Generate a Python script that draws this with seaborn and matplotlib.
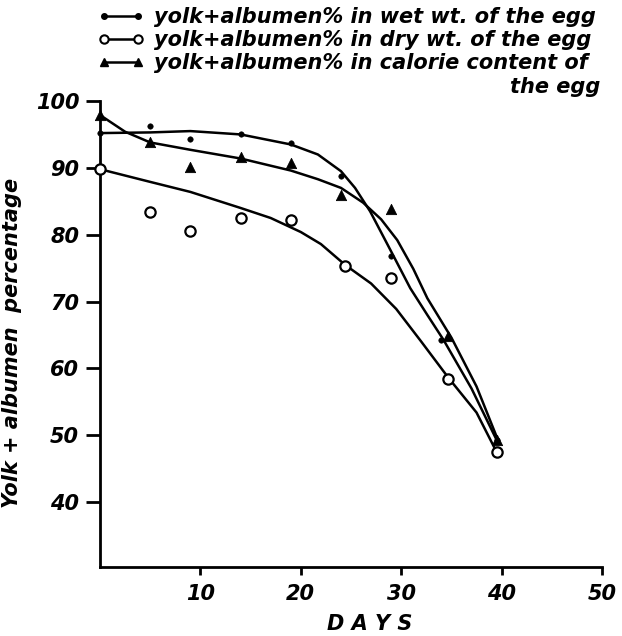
import matplotlib
matplotlib.use("Agg")
import matplotlib.pyplot as plt
from matplotlib.lines import Line2D
import seaborn as sns

# measured points (days, yolk+albumen %)
wet_days = [0, 5, 9, 14, 19, 24, 29, 34, 39.5]
wet_pct = [95.2, 96.3, 94.3, 95.1, 93.7, 88.8, 76.8, 64.3, 49.3]

dry_days = [0, 5, 9, 14, 19, 24.4, 29, 34.7, 39.5]
dry_pct = [89.8, 83.4, 80.6, 82.5, 82.2, 75.3, 73.5, 58.4, 47.5]

cal_days = [0, 5, 9, 14, 19, 24, 29, 34.7, 39.5]
cal_pct = [97.9, 93.9, 90.1, 91.6, 90.8, 85.9, 83.8, 64.8, 49.3]

# hand drawn fitted curves
wet_fit_days = [0, 5, 9, 14, 19, 21.7, 24, 25.4, 26.9, 29.1, 30.9, 32.6, 34.2, 37, 39.5]
wet_fit_pct = [95.2, 95.3, 95.5, 95.0, 93.5, 92.0, 89.5, 87.0, 83.5, 77.2, 72.0, 68.0, 64.3, 57.0, 49.3]

dry_fit_days = [0, 5, 9, 14, 17, 20, 22, 24.4, 27, 29.5, 32, 34.7, 37.5, 39.5]
dry_fit_pct = [89.8, 87.9, 86.4, 84.0, 82.5, 80.4, 78.6, 75.5, 72.7, 68.9, 64.0, 58.6, 53.4, 47.5]

cal_fit_days = [0, 2.5, 5, 9, 14, 19, 21.7, 24, 26.2, 28, 29.6, 31.2, 32.6, 35, 37.5, 39.5]
cal_fit_pct = [97.9, 95.4, 93.8, 92.7, 91.4, 89.6, 88.3, 87.0, 84.8, 82.3, 79.2, 74.9, 70.5, 64.6, 57.3, 49.8]

x_ticks = [10, 20, 30, 40, 50]
y_ticks = [40, 50, 60, 70, 80, 90, 100]

legend_labels = ["yolk+albumen% in wet wt. of the egg",
                 "yolk+albumen% in dry wt. of the egg",
                 "yolk+albumen% in calorie content of"]

sns.set_style("ticks")
plt.rcParams["font.family"] = ["DejaVu Sans"]
for key in ["text.color", "axes.labelcolor", "xtick.color", "ytick.color", "axes.edgecolor"]:
    plt.rcParams[key] = "black"

fig = plt.figure(figsize=(6.22, 6.36), dpi=100)
ax = fig.add_axes([0.1608, 0.1085, 0.8071, 0.7327])

lw = 1.8
sns.lineplot(x=wet_fit_days, y=wet_fit_pct, color="black", lw=lw, estimator=None, sort=False, ax=ax)
sns.lineplot(x=dry_fit_days, y=dry_fit_pct, color="black", lw=lw, estimator=None, sort=False, ax=ax)
sns.lineplot(x=cal_fit_days, y=cal_fit_pct, color="black", lw=lw, estimator=None, sort=False, ax=ax)

sns.scatterplot(x=wet_days, y=wet_pct, marker="o", s=16, color="black", edgecolor="black", ax=ax, zorder=3, clip_on=False)
sns.scatterplot(x=dry_days, y=dry_pct, marker="o", s=55, color="white", edgecolor="black", linewidth=1.6, ax=ax, zorder=3, clip_on=False)
sns.scatterplot(x=cal_days, y=cal_pct, marker="^", s=55, color="black", edgecolor="black", ax=ax, zorder=3, clip_on=False)

ax.set_xlim(0, 50)
ax.set_ylim(30.3, 100)
ax.set_xticks(x_ticks)
ax.set_yticks(y_ticks)
sns.despine(ax=ax)
for side in ["left", "bottom"]:
    ax.spines[side].set_linewidth(2.0)
    ax.spines[side].set_color("black")
ax.tick_params(axis="y", length=10, width=2, pad=5, colors="black")
ax.tick_params(axis="x", length=6, width=2, pad=6, colors="black")

tick_font = dict(fontsize=15, style="italic", fontweight="bold")
ax.set_xticklabels([str(t) for t in x_ticks], **tick_font)
ax.set_yticklabels([str(t) for t in y_ticks], **tick_font)

ax.set_xlabel("D A Y S", fontsize=15, style="italic", fontweight="bold")
ax.xaxis.set_label_coords(0.538, -0.10)
ax.set_ylabel("Yolk + albumen  percentage", fontsize=15, style="italic", fontweight="bold")
ax.yaxis.set_label_coords(-0.155, 0.48)

handles = [
    Line2D([0], [0], color="black", lw=lw, marker="o", markersize=4),
    Line2D([0], [0], color="black", lw=lw, marker="o", markersize=6, mfc="white", mec="black", mew=1.5),
    Line2D([0], [0], color="black", lw=lw, marker="^", markersize=6),
]
fig.legend(handles, legend_labels, loc="upper left", bbox_to_anchor=(98 / 622, 1 - 7 / 636),
           frameon=False, numpoints=2, handlelength=2.2, handletextpad=0.5,
           labelspacing=0.15, borderpad=0, borderaxespad=0,
           prop=dict(size=15, style="italic", weight="bold"))
fig.text(600 / 622, 1 - 87 / 636, "the egg", ha="right", va="center",
         fontsize=15, style="italic", fontweight="bold")

fig.savefig("out.png", dpi=100)
